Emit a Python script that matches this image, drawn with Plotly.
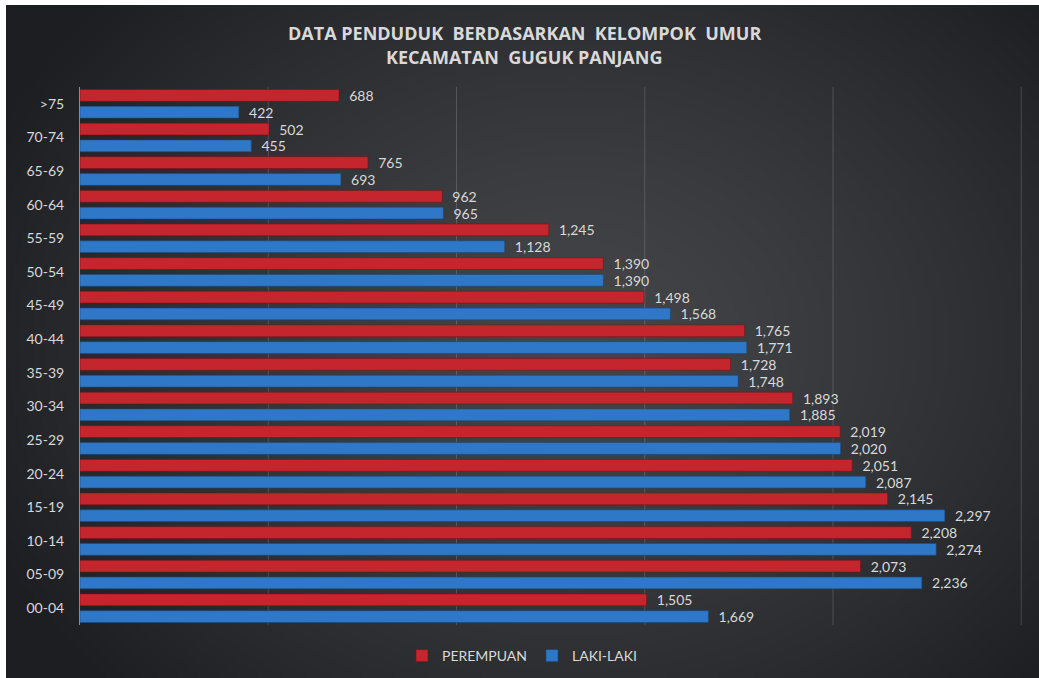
import base64
import struct
import zlib

import numpy as np
import plotly.graph_objects as go

# ---------------- data ----------------
age_groups = [">75", "70-74", "65-69", "60-64", "55-59", "50-54", "45-49", "40-44",
              "35-39", "30-34", "25-29", "20-24", "15-19", "10-14", "05-09", "00-04"]
perempuan = [688, 502, 765, 962, 1245, 1390, 1498, 1765,
             1728, 1893, 2019, 2051, 2145, 2208, 2073, 1505]
laki_laki = [422, 455, 693, 965, 1128, 1390, 1568, 1771,
             1748, 1885, 2020, 2087, 2297, 2274, 2236, 1669]
series_names = ["PEREMPUAN", "LAKI-LAKI"]
title_lines = ["DATA PENDUDUK  BERDASARKAN  KELOMPOK  UMUR", "KECAMATAN  GUGUK PANJANG"]
grid_ticks = [500, 1000, 1500, 2000, 2500]

# ---------------- layout geometry (pixels) ----------------
W, H = 1039, 678
L, R_PX, T, B_PX = 80, 1022, 87, 625  # plot area edges in px


def px_x(px):
    return (px - L) / (R_PX - L)


def px_y(py):
    return (B_PX - py) / (B_PX - T)


# ---------------- radial gradient background as PNG ----------------
def make_png(w, h):
    yy, xx = np.mgrid[0:h, 0:w]
    cx, cy = w * 0.55, h * 0.50
    d = np.sqrt(((xx - cx) / (w * 0.62)) ** 2 + ((yy - cy) / (h * 0.75)) ** 2)
    d = np.clip(d, 0, 1)
    c_in = np.array([68, 70, 73], float)
    c_out = np.array([28, 30, 33], float)
    t = d ** 1.3
    img = (c_in[None, None, :] * (1 - t[..., None]) + c_out[None, None, :] * t[..., None])
    img = img.astype(np.uint8)
    raw = b"".join(b"\x00" + img[r].tobytes() for r in range(h))

    def chunk(tag, data):
        c = struct.pack(">I", len(data)) + tag + data
        return c + struct.pack(">I", zlib.crc32(tag + data) & 0xffffffff)

    png = b"\x89PNG\r\n\x1a\n"
    png += chunk(b"IHDR", struct.pack(">IIBBBBB", w, h, 8, 2, 0, 0, 0))
    png += chunk(b"IDAT", zlib.compress(raw, 9))
    png += chunk(b"IEND", b"")
    return "data:image/png;base64," + base64.b64encode(png).decode()


bg_src = make_png(260, 170)

FONT = "Lato"
TXT = "#d9d9d9"
RED = "#c5262e"
BLUE = "#2f78c8"
GRID = "rgba(255,255,255,0.16)"

fig = go.Figure()
fig.add_trace(go.Bar(
    y=age_groups, x=perempuan, orientation="h", name=series_names[0],
    marker=dict(color=RED, line=dict(color="#7a1418", width=0.6)),
    texttemplate="  %{x:,}", textposition="outside", constraintext="none",
    textfont=dict(color=TXT, size=14, family=FONT), cliponaxis=False,
))
fig.add_trace(go.Bar(
    y=age_groups, x=laki_laki, orientation="h", name=series_names[1],
    marker=dict(color=BLUE, line=dict(color="#1b4a80", width=0.6)),
    texttemplate="  %{x:,}", textposition="outside", constraintext="none",
    textfont=dict(color=TXT, size=14, family=FONT), cliponaxis=False,
))

annotations = []
for i, line in enumerate(title_lines):
    annotations.append(dict(
        text="<b>" + line + "</b>", xref="paper", yref="paper",
        x=px_x(524), y=px_y(33 + 24 * i), xanchor="center", yanchor="middle",
        showarrow=False, font=dict(family="Open Sans", size=18, color=TXT),
    ))

shapes = [
    # white margins at left and top of the picture
    dict(type="rect", xref="paper", yref="paper", x0=px_x(-2), x1=px_x(6),
         y0=px_y(H + 2), y1=px_y(-2), fillcolor="white", line=dict(width=0), layer="above"),
    dict(type="rect", xref="paper", yref="paper", x0=px_x(-2), x1=px_x(W + 2),
         y0=px_y(5), y1=px_y(-2), fillcolor="white", line=dict(width=0), layer="above"),
]
# vertical gridlines (drawn as shapes so the one at the range end shows too)
for g in grid_ticks:
    shapes.append(dict(type="line", xref="x", yref="paper", x0=g, x1=g, y0=0, y1=1,
                       line=dict(color=GRID, width=1), layer="below"))

fig.update_layout(
    width=W, height=H,
    margin=dict(l=L, r=W - R_PX, t=T, b=H - B_PX, autoexpand=False),
    paper_bgcolor="#26282b", plot_bgcolor="rgba(0,0,0,0)",
    barmode="group", bargap=0.0, bargroupgap=0.3,
    font=dict(family=FONT, color=TXT, size=13),
    showlegend=True,
    legend=dict(orientation="h", x=px_x(522), xanchor="center", y=px_y(656), yanchor="middle",
                font=dict(size=14, color=TXT, family=FONT), bgcolor="rgba(0,0,0,0)",
                traceorder="normal", itemwidth=30),
    xaxis=dict(range=[0, 2502], showgrid=False, showticklabels=False, zeroline=False,
               fixedrange=True),
    yaxis=dict(type="category", categoryorder="array", categoryarray=age_groups,
               autorange="reversed",
               showline=True, linecolor="#8c8c8c", linewidth=1, ticks="",
               ticklabelstandoff=12, tickfont=dict(size=14, color=TXT, family=FONT),
               showgrid=False),
    images=[dict(source=bg_src, xref="paper", yref="paper",
                 x=px_x(0), y=px_y(0), sizex=px_x(W) - px_x(0), sizey=px_y(0) - px_y(H),
                 xanchor="left", yanchor="top", sizing="stretch", layer="below")],
    annotations=annotations,
    shapes=shapes,
)

fig.write_html("out.html", config={"displayModeBar": False},
               post_script="document.body.style.margin='0';")
